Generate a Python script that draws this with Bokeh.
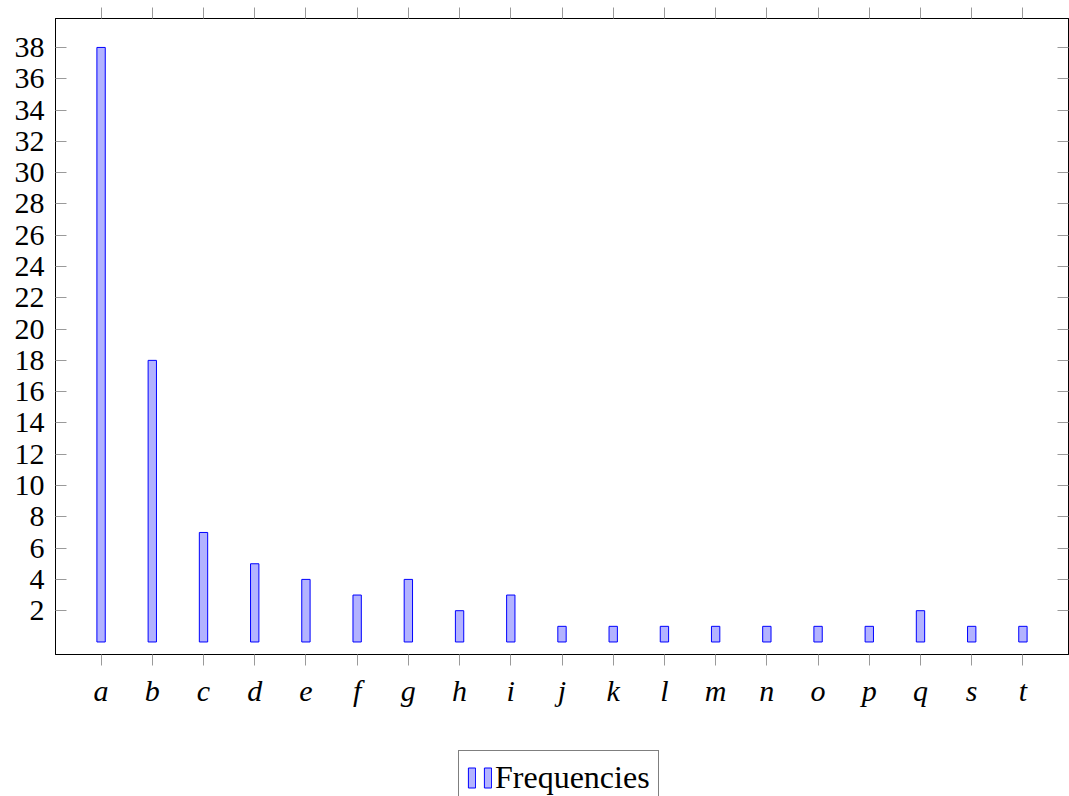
from bokeh.plotting import figure
from bokeh.models import (FixedTicker, LinearAxis, Range1d, Legend, LegendItem,
                          ColumnDataSource)
from bokeh.layouts import column
from bokeh.embed import file_html
from bokeh.resources import INLINE

# ---- data ----
letters = ["a", "b", "c", "d", "e", "f", "g", "h", "i", "j",
           "k", "l", "m", "n", "o", "p", "q", "s", "t"]
frequencies = [38, 18, 7, 5, 4, 3, 4, 2, 3, 1, 1, 1, 1, 1, 1, 1, 2, 1, 1]
y_ticks = [2, 4, 6, 8, 10, 12, 14, 16, 18, 20, 22, 24, 26, 28, 30, 32, 34, 36, 38]
series_name = "Frequencies"

idx = list(range(len(letters)))
src = ColumnDataSource(dict(x=idx, top=frequencies, label=letters))

FONT = "Liberation Serif"
FS = "30px"
TICK_COLOR = "#9a9a9a"
BAR_FILL = "#b3b3ff"
BAR_LINE = "#0000ff"

p = figure(width=1069, height=740, output_backend="svg", toolbar_location=None,
           x_range=Range1d(-0.89, len(letters) - 1 + 0.89),
           y_range=Range1d(-0.8, 39.85),
           min_border_left=55, min_border_right=1, min_border_top=18,
           min_border_bottom=86, x_axis_location="below")

p.xgrid.visible = False
p.ygrid.visible = False
p.outline_line_color = "black"
p.outline_line_width = 1
p.background_fill_color = "white"
p.border_fill_color = "white"

bars = p.vbar(x="x", top="top", bottom=0, width=0.163, source=src,
              fill_color=BAR_FILL, line_color=BAR_LINE, line_width=1)

# bottom x axis
xa = p.xaxis[0]
xa.ticker = FixedTicker(ticks=idx)
xa.major_label_overrides = {i: l for i, l in zip(idx, letters)}
xa.major_label_text_font = FONT
xa.major_label_text_font_style = "italic"
xa.major_label_text_font_size = FS
xa.major_label_text_color = "black"
xa.major_tick_in = 0
xa.major_tick_out = 11
xa.major_tick_line_color = TICK_COLOR
xa.minor_tick_line_color = None
xa.axis_line_color = "black"
xa.major_label_standoff = 8

# left y axis
ya = p.yaxis[0]
ya.ticker = FixedTicker(ticks=y_ticks)
ya.major_label_text_font = FONT
ya.major_label_text_font_size = FS
ya.major_label_text_color = "black"
ya.major_tick_in = 11
ya.major_tick_out = 0
ya.major_tick_line_color = TICK_COLOR
ya.minor_tick_line_color = None
ya.axis_line_color = "black"
ya.major_label_standoff = 11

# top axis (ticks only)
top_ax = LinearAxis(ticker=FixedTicker(ticks=idx), major_label_text_font_size="1px",
                    major_label_text_color=None,
                    major_label_standoff=0, major_tick_in=0, major_tick_out=11,
                    major_tick_line_color=TICK_COLOR, minor_tick_line_color=None,
                    axis_line_color="black")
p.add_layout(top_ax, "above")

# right axis (ticks only, inward)
right_ax = LinearAxis(ticker=FixedTicker(ticks=y_ticks), major_label_text_font_size="1px",
                      major_label_text_color=None,
                      major_label_standoff=0, major_tick_in=11, major_tick_out=0,
                      major_tick_line_color=TICK_COLOR, minor_tick_line_color=None,
                      axis_line_color="black")
p.add_layout(right_ax, "right")

# ---- legend strip below the plot (renderer is muted & transparent; only its legend glyph shows) ----
lf = figure(width=1069, height=56, output_backend="svg", toolbar_location=None,
            x_axis_type=None, y_axis_type=None,
            x_range=Range1d(-0.89, len(letters) - 1 + 0.89), y_range=Range1d(-1000, -999),
            min_border=0, min_border_left=0, min_border_right=0,
            min_border_top=0, min_border_bottom=0)
lf.xgrid.visible = False
lf.ygrid.visible = False
lf.outline_line_color = None
lf.background_fill_color = "white"
lf.border_fill_color = "white"
leg_bars = lf.vbar(x="x", top="top", bottom=0, width=0.163, source=src,
                   fill_color=BAR_FILL, line_color=BAR_LINE, line_width=1,
                   muted_fill_alpha=0, muted_line_alpha=0)
leg_bars.muted = True

legend = Legend(items=[LegendItem(label="", renderers=[leg_bars]),
                       LegendItem(label=series_name, renderers=[leg_bars])],
                orientation="horizontal", location=(403, -9),
                glyph_width=9, glyph_height=25, label_standoff=3, spacing=4,
                label_width=0, padding=8, margin=0,
                label_text_font=FONT, label_text_font_size="32px",
                label_text_color="black",
                border_line_color="black", border_line_width=1,
                background_fill_color="white", background_fill_alpha=1)
lf.add_layout(legend, "center")

layout = column(p, lf, spacing=0)

open("out.html", "w").write(file_html(layout, INLINE))
